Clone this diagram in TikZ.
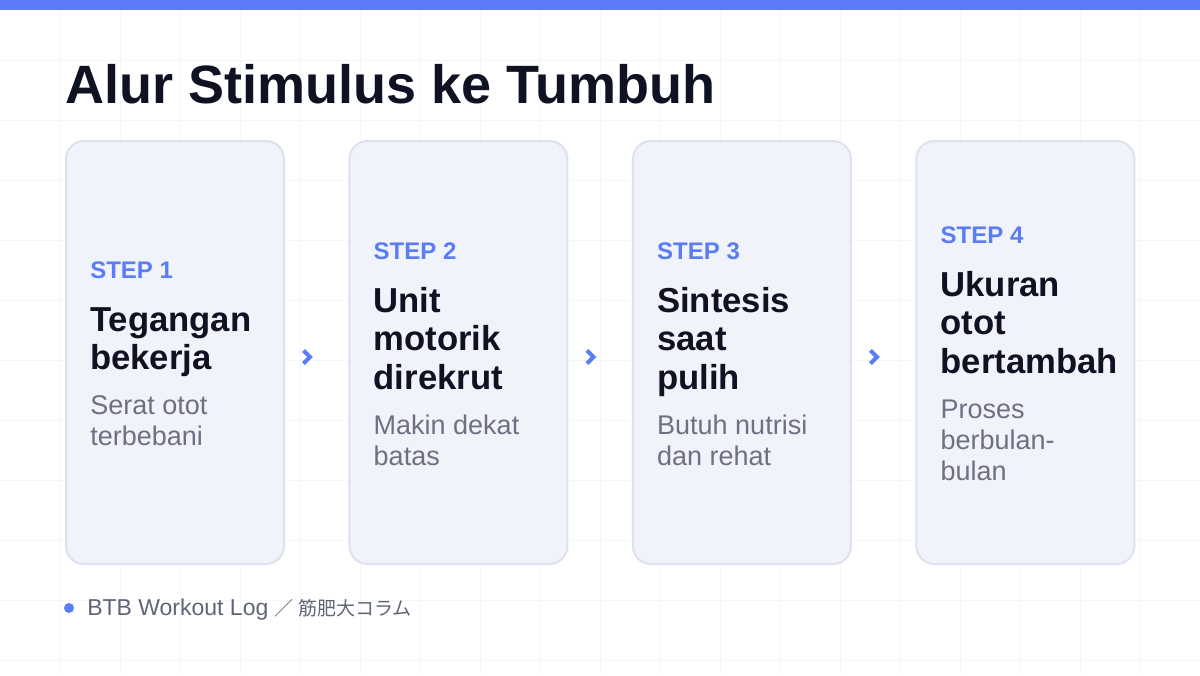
\documentclass[tikz,border=0pt]{standalone}
\usepackage{fontspec}
\setmainfont{Liberation Sans}
\newfontfamily\jpfont{Noto Sans CJK JP}
\usetikzlibrary{positioning,calc}

\definecolor{bluebar}{HTML}{5B7CF6}
\definecolor{inkdark}{HTML}{0F1222}
\definecolor{inkgray}{HTML}{6B7183}
\definecolor{cardfill}{HTML}{F1F3FB}
\definecolor{cardline}{HTML}{DEE2EF}
\definecolor{gridline}{HTML}{F5F6F9}
\definecolor{footgray}{HTML}{5F6577}

\begin{document}
\begin{tikzpicture}
	[
		x=0.75pt, y=-0.75pt,
		Card/.style={rectangle, rounded corners=13.5pt, minimum width=163.5pt, minimum height=317.25pt, inner sep=0pt, draw=cardline, line width=1.5pt, fill=cardfill},
		StepLabel/.style={anchor=base west, inner sep=0pt, text=bluebar, font=\fontsize{18}{20}\selectfont\bfseries},
		Head/.style={anchor=base west, inner sep=0pt, text=inkdark, font=\fontsize{26}{29}\selectfont\bfseries},
		Sub/.style={anchor=base west, inner sep=0pt, text=inkgray, font=\fontsize{20.25}{23}\selectfont},
		Chevron/.style={draw=bluebar, line width=3pt, line join=miter}
	]
	\useasboundingbox (0,0) rectangle (1200,675);
	% background grid and top band
	\fill[white] (0,0) rectangle (1200,675);
	\foreach \gx in {60,120,...,1140} \draw[gridline, line width=0.75pt] (\gx,10) -- (\gx,675);
	\foreach \gy in {60,120,...,660} \draw[gridline, line width=0.75pt] (0,\gy) -- (1200,\gy);
	\fill[bluebar] (0,0) rectangle (1200,10);

	\node[anchor=base west, inner sep=0pt, text=inkdark, font=\fontsize{40.5}{44}\selectfont\bfseries] (title) at (65,103) {Alur Stimulus ke Tumbuh};

	% cards
	\node[Card] (card1) at (175,352.5) {};
	\node[Card, right=47.6pt of card1] (card2) {};
	\node[Card, right=47.6pt of card2] (card3) {};
	\node[Card, right=47.6pt of card3] (card4) {};

	% step 1
	\node[StepLabel] (step1) at ($(card1.west)+(25,-74.5)$) {STEP 1};
	\node[Head] (head1a) at ([yshift=-39.75pt]step1.base west) {Tegangan};
	\node[Head] (head1b) at ([yshift=-28.9pt]head1a.base west) {bekerja};
	\node[Sub] (sub1a) at ([yshift=-33.75pt]head1b.base west) {Serat otot};
	\node[Sub] (sub1b) at ([yshift=-23.25pt]sub1a.base west) {terbebani};

	% step 2
	\node[StepLabel] (step2) at ($(card2.west)+(25,-93.5)$) {STEP 2};
	\node[Head] (head2a) at ([yshift=-39.75pt]step2.base west) {Unit};
	\node[Head] (head2b) at ([yshift=-28.9pt]head2a.base west) {motorik};
	\node[Head] (head2c) at ([yshift=-28.9pt]head2b.base west) {direkrut};
	\node[Sub] (sub2a) at ([yshift=-33.75pt]head2c.base west) {Makin dekat};
	\node[Sub] (sub2b) at ([yshift=-23.25pt]sub2a.base west) {batas};

	% step 3
	\node[StepLabel] (step3) at ($(card3.west)+(25,-93.5)$) {STEP 3};
	\node[Head] (head3a) at ([yshift=-39.75pt]step3.base west) {Sintesis};
	\node[Head] (head3b) at ([yshift=-28.9pt]head3a.base west) {saat};
	\node[Head] (head3c) at ([yshift=-28.9pt]head3b.base west) {pulih};
	\node[Sub] (sub3a) at ([yshift=-33.75pt]head3c.base west) {Butuh nutrisi};
	\node[Sub] (sub3b) at ([yshift=-23.25pt]sub3a.base west) {dan rehat};

	% step 4
	\node[StepLabel] (step4) at ($(card4.west)+(25,-109.5)$) {STEP 4};
	\node[Head] (head4a) at ([yshift=-39.75pt]step4.base west) {Ukuran};
	\node[Head] (head4b) at ([yshift=-28.9pt]head4a.base west) {otot};
	\node[Head] (head4c) at ([yshift=-28.9pt]head4b.base west) {bertambah};
	\node[Sub] (sub4a) at ([yshift=-33.75pt]head4c.base west) {Proses};
	\node[Sub] (sub4b) at ([yshift=-23.25pt]sub4a.base west) {berbulan-};
	\node[Sub] (sub4c) at ([yshift=-23.25pt]sub4b.base west) {bulan};

	% chevrons between cards
	\foreach \i in {1,2,3} {
		\coordinate (gap\i) at ($(card\i.east)+(22,4.5)$);
		\draw[Chevron] ($(gap\i)+(-3.5,-6.5)$) -- ++(6.5,6.5) -- ++(-6.5,6.5);
	}

	% footer
	\node[circle, fill=bluebar, inner sep=0pt, minimum size=7.5pt] (dot) at (69,608) {};
	\node[anchor=base west, inner sep=0pt, text=footgray, font=\fontsize{17.25}{20}\selectfont] (footer) at (87,615.5) {BTB Workout Log {\jpfont\fontsize{14.25}{20}\selectfont ／ 筋肥大コラム}};
\end{tikzpicture}
\end{document}
